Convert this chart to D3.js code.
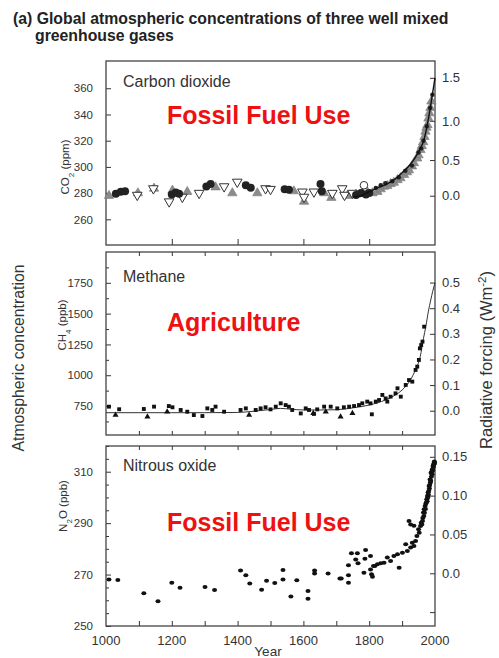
<!DOCTYPE html>
<html><head><meta charset="utf-8">
<script src="https://cdn.jsdelivr.net/npm/d3@7"></script>
<style>
html,body{margin:0;padding:0;background:#fff;}
svg{display:block;font-family:"Liberation Sans",Arial,Helvetica,sans-serif;}
</style></head><body>
<svg id="chart" width="499" height="658"></svg>
<script>
// ---------- Carbon dioxide (ppm) ----------
const co2DarkCircles = [[1030,279.5],[1045,281],[1058,281.5],[1200,279],[1212,280.5],[1222,279.5],[1305,285],[1318,287],
  [1425,286],[1440,284],[1543,283],[1556,282.5],[1652,287],[1656,281.5],[1760,278.5],[1775,280],[1790,279],[1800,280]];
const co2OpenTriangles = [[1095,278.5],[1144,283.5],[1192,273.5],[1232,277],[1283,280],[1359,285],[1399,288.5],[1485,283.5],
  [1500,283],[1597,281],[1602,277],[1632,281],[1688,280],[1718,283.5],[1725,278.5],[1749,280]];
const co2GrayTriangles = [[1009,278],[1097,280],[1146,283.5],[1202,282],[1247,281],[1333,284.5],[1384,280],[1460,280],
  [1571,281.5],[1602,273.5],[1663,280],[1685,276.5],[1734,278],[1760,279],[1780,279.5],[1795,280.5],[1810,280],[1825,281],
  [1835,283],[1845,285],[1855,285.5],[1865,287],[1875,288],[1886,290],[1895,291.5],[1906,294],[1915,296],[1921,297.5],
  [1930,300.5],[1936,303],[1946,306.5],[1950,309],[1956,313],[1960,316],[1964,319],[1968,323],[1971,327],[1974,330],[1977,332],
  [1980,337],[1983,341],[1986,345],[1989,350]];
const co2OpenCircles = [[1784,286]];
const co2SmallDots = [[1820,284],[1835,286],[1850,287.5],[1870,289],[1890,292],[1910,297],[1930,301],[1950,311],
  [1958,314],[1965,320],[1975,331],[1985,345],[1992,355]];
const co2Curve = [[1750,277],[1775,278],[1800,281],[1825,284],[1850,286.5],[1875,290],[1900,295.5],[1920,300.5],[1940,307],
  [1955,314],[1965,319.5],[1975,330],[1985,344],[1990,352],[1995,360],[2000,368]];
const co2Ticks = [260,280,300,320,340,360];
const co2ForcingTicks = [0.0,0.5,1.0,1.5];
const co2ForcingLabels = ["0.0","0.5","1.0","1.5"];

// ---------- Methane (ppb) ----------
const ch4Squares = [[1009,745],[1040,724],[1115,726],[1146,745],[1191,750],[1202,740],[1227,718],[1247,704],[1267,677],
  [1293,669],[1308,731],[1323,718],[1333,745],[1359,704],[1409,718],[1425,731],[1455,718],[1470,731],[1485,740],[1500,723],
  [1516,745],[1531,772],[1546,758],[1556,745],[1566,718],[1592,690],[1607,731],[1617,718],[1632,686],[1642,723],[1663,745],
  [1683,745],[1703,731],[1723,740],[1739,745],[1754,750],[1769,758],[1779,772],[1794,786],[1804,772],[1808,683],[1820,786],
  [1830,799],[1840,840],[1850,812],[1855,786],[1865,826],[1880,853],[1886,894],[1896,826],[1911,921],[1921,961],[1931,948],
  [1941,1043],[1946,1070],[1951,1124],[1954,1218],[1958,1245],[1962,1273],[1967,1394]];
const ch4Triangles = [[1029,677],[1126,664],[1186,704],[1435,677],[1630,691],[1668,704],[1713,664],[1749,691]];
const ch4Curve = [[1000,696],[1100,696],[1200,696],[1300,696],[1400,698],[1450,708],[1500,722],[1530,731],[1560,725],
  [1600,718],[1650,718],[1700,720],[1750,735],[1800,758],[1850,800],[1880,840],[1900,880],[1925,960],[1940,1040],
  [1955,1150],[1965,1300],[1972,1394],[1980,1520],[1987,1610],[1993,1680],[2000,1750]];
const ch4Ticks = [750,1000,1250,1500,1750];
const ch4MinorTicks = [625,875,1125,1375,1625,1875];
const ch4ForcingTicks = [0.0,0.1,0.2,0.3,0.4,0.5];
const ch4ForcingLabels = ["0.0","0.1","0.2","0.3","0.4","0.5"];

// ---------- Nitrous oxide (ppb) ----------
const n2oPoints = [[1009,268.1],[1036,267.9],[1115,262.7],[1158,259.6],[1200,266.8],[1225,264.9],[1301,265.2],[1330,264.0],
  [1409,271.6],[1425,269.7],[1437,266.5],[1473,264.1],[1488,267.6],[1513,266.7],[1538,271.8],[1538,268.1],[1562,261.5],
  [1580,267.8],[1614,263.6],[1614,260.6],[1634,271.6],[1634,270.4],[1675,270.4],[1711,268.5],[1715,268.5],[1737,269.7],
  [1737,266.8],[1737,273.6],[1746,278.3],[1764,278.3],[1759,275.9],[1766,274.4],[1784,270.7],[1787,276.2],[1789,279.6],
  [1804,277.2],[1804,272.0],[1807,270.1],[1810,269.2],[1813,273.3],[1817,273.3],[1825,274.0],[1835,274.4],[1845,274.6],
  [1855,276.6],[1865,275.3],[1875,277.2],[1886,277.9],[1891,272.7],[1901,278.5],[1911,281.8],[1916,279.2],[1921,290.8],
  [1926,289.5],[1936,289.0],[1926,280.5],[1931,282.4],[1936,281.1],[1941,283.1],[1945,285.0],[1950,287.6],[1952,286.3],
  [1956,288.9],[1958,290.2],[1960,289.5],[1962,290.8],[1963,292.0],[1965,294.1],[1966,292.8],[1967,295.4],[1968,294.0],
  [1970,296.7],[1971,295.5],[1972,297.5],[1974,298.0],[1975,299.3],[1976,298.5],[1977,300.6],[1978,300.0],[1979,301.9],
  [1980,301.0],[1981,302.5],[1982,304.4],[1983,303.5],[1984,304.8],[1985,307.0],[1986,305.8],[1987,306.5],[1988,309.6],
  [1989,308.0],[1990,310.0],[1991,309.0],[1992,311.0],[1993,310.5],[1994,312.2],[1995,311.8],[1996,313.0],[1997,312.9],
  [1998,314.0],[1999,313.5]];
const n2oTicks = [250,270,290,310];
const n2oMinorTicks = [255,260,265,275,280,285,295,300,305,315,320];
const n2oForcingTicks = [-0.05,0.0,0.05,0.10,0.15];
const n2oForcingLabels = ["","0.0","0.05","0.10","0.15"];

// ---------- Year axis ----------
const yearLabels = [1000,1200,1400,1600,1800,2000];
const yearMinor = [1100,1200,1300,1400,1500,1600,1700,1800,1900];

// radiative forcing -> concentration relations used to place the right-hand scales
const co2FromForcing = f => 278 * Math.exp(f / 5.35);
const ch4FromForcing = f => 712 + f * 2080;
const n2oFromForcing = f => 270.5 + f * 302;

const svg = d3.select("#chart");
const X0 = 106, X1 = 435;
const x = d3.scaleLinear().domain([1000, 2000]).range([X0, X1]);
const ink = "#333";

const panels = [
  {top: 61, bottom: 245, domain: [240.4, 380.8], name: "Carbon dioxide", nameY: 86.5, tag: "Fossil Fuel Use", tagY: 124,
   ticks: co2Ticks, minor: [], ftick: co2ForcingTicks, flab: co2ForcingLabels, conv: co2FromForcing,
   topTicks: [], bottomTicks: [1200,1400,1600,1800], bottomLen: 6},
  {top: 252, bottom: 435, domain: [515, 2000], name: "Methane", nameY: 281.5, tag: "Agriculture", tagY: 330.5,
   ticks: ch4Ticks, minor: ch4MinorTicks, ftick: ch4ForcingTicks, flab: ch4ForcingLabels, conv: ch4FromForcing,
   topTicks: yearMinor, bottomTicks: yearMinor, bottomLen: 4},
  {top: 446, bottom: 626, domain: [250, 320], name: "Nitrous oxide", nameY: 471, tag: "Fossil Fuel Use", tagY: 530.5,
   ticks: n2oTicks, minor: n2oMinorTicks, ftick: n2oForcingTicks, flab: n2oForcingLabels, conv: n2oFromForcing,
   topTicks: yearMinor, bottomTicks: yearMinor, bottomLen: 5}
];

panels.forEach(p => {
  p.y = d3.scaleLinear().domain(p.domain).range([p.bottom, p.top]);
  const g = svg.append("g");
  // left concentration axis, ticks pointing inward
  const left = g.append("g").attr("transform", `translate(${X0},0)`)
    .call(d3.axisLeft(p.y).tickValues(p.ticks).tickSize(-5).tickPadding(13).tickFormat(d3.format("d")));
  left.select(".domain").remove();
  left.selectAll("text").attr("font-size", 11.5).attr("fill", ink).attr("font-family", null);
  left.selectAll("line").attr("stroke", ink);
  if (p.minor.length) {
    const lm = g.append("g").attr("transform", `translate(${X0},0)`)
      .call(d3.axisLeft(p.y).tickValues(p.minor).tickSize(-3).tickFormat(""));
    lm.select(".domain").remove();
    lm.selectAll("line").attr("stroke", ink);
  }
  // right radiative forcing axis
  const right = g.append("g").attr("transform", `translate(${X1},0)`)
    .call(d3.axisRight(p.y).tickValues(p.ftick.map(p.conv)).tickSize(-5).tickPadding(7)
      .tickFormat((d, i) => p.flab[i]));
  right.select(".domain").remove();
  right.selectAll("text").attr("font-size", 13).attr("fill", ink).attr("font-family", null);
  right.selectAll("line").attr("stroke", ink);
  // year ticks on the top and bottom edges
  const bt = g.append("g").attr("transform", `translate(0,${p.bottom})`)
    .call(d3.axisBottom(x).tickValues(p.bottomTicks).tickSize(-p.bottomLen).tickFormat(""));
  bt.select(".domain").remove(); bt.selectAll("line").attr("stroke", ink);
  const tt = g.append("g").attr("transform", `translate(0,${p.top})`)
    .call(d3.axisTop(x).tickValues(p.topTicks).tickSize(-4).tickFormat(""));
  tt.select(".domain").remove(); tt.selectAll("line").attr("stroke", ink);
  // frame
  g.append("rect").attr("x", X0).attr("y", p.top).attr("width", X1 - X0).attr("height", p.bottom - p.top)
    .attr("fill", "none").attr("stroke", "#444").attr("stroke-width", 1.3);
  g.append("text").attr("x", X0 + 17).attr("y", p.nameY).attr("font-size", 16).attr("fill", "#333").text(p.name);
  g.append("text").attr("x", X0 + 61).attr("y", p.tagY).attr("font-size", 25).attr("font-weight", "bold")
    .attr("fill", "#ee1111").text(p.tag);
});

const [pC, pM, pN] = panels;
const line = sc => d3.line().x(d => x(d[0])).y(d => sc(d[1])).curve(d3.curveMonotoneX);

// ---- carbon dioxide marks ----
const gc = svg.append("g");
gc.selectAll(".gt").data(co2GrayTriangles).join("path")
  .attr("d", d3.symbol(d3.symbolTriangle, 38))
  .attr("transform", d => `translate(${x(d[0])},${pC.y(d[1])})`)
  .attr("fill", "#8c8c8c").attr("stroke", "#777").attr("stroke-width", 0.6);
gc.selectAll(".ot").data(co2OpenTriangles).join("path")
  .attr("d", d3.symbol(d3.symbolTriangle, 40))
  .attr("transform", d => `translate(${x(d[0])},${pC.y(d[1])}) rotate(180)`)
  .attr("fill", "#fff").attr("stroke", "#333").attr("stroke-width", 1);
gc.selectAll(".dc").data(co2DarkCircles).join("circle")
  .attr("cx", d => x(d[0])).attr("cy", d => pC.y(d[1])).attr("r", 4).attr("fill", "#222");
gc.selectAll(".oc").data(co2OpenCircles).join("circle")
  .attr("cx", d => x(d[0])).attr("cy", d => pC.y(d[1])).attr("r", 3.8)
  .attr("fill", "#fff").attr("stroke", "#333").attr("stroke-width", 1);
gc.selectAll(".sd").data(co2SmallDots).join("circle")
  .attr("cx", d => x(d[0])).attr("cy", d => pC.y(d[1])).attr("r", 2.2).attr("fill", "#222");
gc.append("path").datum(co2Curve).attr("d", line(pC.y)).attr("fill", "none")
  .attr("stroke", "#111").attr("stroke-width", 1.4);

// ---- methane marks ----
const gm = svg.append("g");
gm.append("path").datum(ch4Curve).attr("d", line(pM.y)).attr("fill", "none")
  .attr("stroke", "#333").attr("stroke-width", 1);
gm.selectAll(".sq").data(ch4Squares).join("path")
  .attr("d", d3.symbol(d3.symbolSquare, 15))
  .attr("transform", d => `translate(${x(d[0])},${pM.y(d[1])})`).attr("fill", "#111");
gm.selectAll(".tr").data(ch4Triangles).join("path")
  .attr("d", d3.symbol(d3.symbolTriangle, 16))
  .attr("transform", d => `translate(${x(d[0])},${pM.y(d[1])})`).attr("fill", "#111");

// ---- nitrous oxide marks ----
svg.append("g").selectAll("ellipse").data(n2oPoints).join("ellipse")
  .attr("cx", d => x(d[0])).attr("cy", d => pN.y(d[1])).attr("rx", 2.5).attr("ry", 2).attr("fill", "#111");

// ---- year labels ----
svg.append("g").selectAll("text").data(yearLabels).join("text")
  .attr("x", d => x(d)).attr("y", 645).attr("text-anchor", "middle").attr("font-size", 13).attr("fill", ink)
  .text(d => d);
svg.append("text").attr("x", 268).attr("y", 656).attr("text-anchor", "middle").attr("font-size", 13.5)
  .attr("fill", ink).text("Year");

// ---- axis titles ----
function vlabel(cx, cy, size, parts) {
  const t = svg.append("text").attr("transform", `translate(${cx},${cy}) rotate(-90)`)
    .attr("text-anchor", "middle").attr("font-size", size).attr("fill", ink);
  parts.forEach(([s, shift]) => {
    const ts = t.append("tspan").text(s);
    if (shift) ts.attr("baseline-shift", shift).attr("font-size", size * 0.7);
  });
}
vlabel(69, 167, 11.5, [["CO"], ["2", "sub"], [" (ppm)"]]);
vlabel(66, 325, 11.5, [["CH"], ["4", "sub"], [" (ppb)"]]);
vlabel(67, 506, 11.5, [["N"], ["2", "sub"], ["O (ppb)"]]);
vlabel(24, 358, 15.8, [["Atmospheric concentration"]]);
vlabel(492, 360, 16.5, [["Radiative forcing  (Wm"], ["-2", "super"], [")"]]);

// ---- title ----
const title = svg.append("text").attr("font-weight", "bold").attr("font-size", 15.8).attr("fill", "#222");
title.append("tspan").attr("x", 13).attr("y", 24).text("(a) Global atmospheric concentrations of three well mixed");
title.append("tspan").attr("x", 35).attr("y", 41).text("greenhouse gases");
</script>
</body></html>
